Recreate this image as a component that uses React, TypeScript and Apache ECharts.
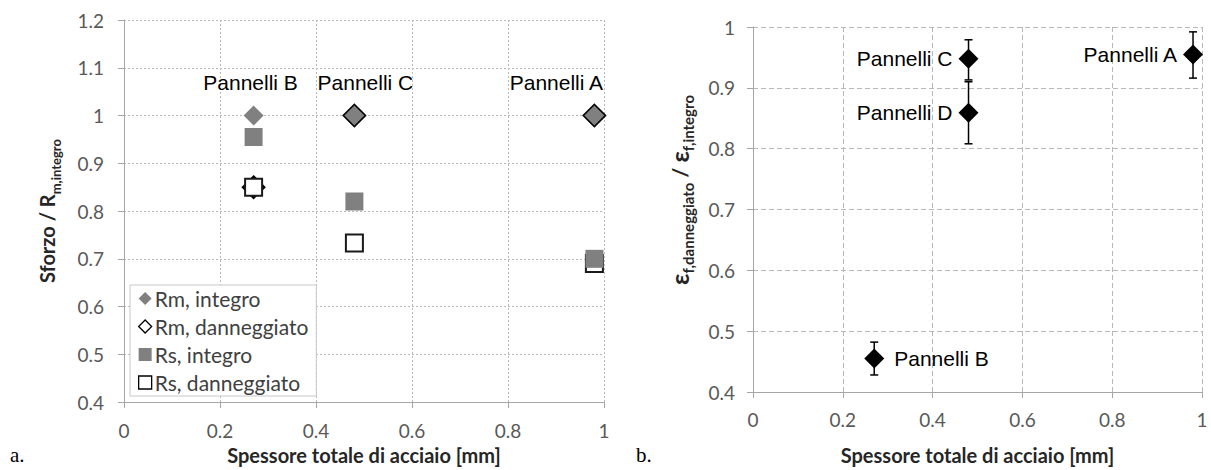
import React, { useEffect, useRef } from "react";
import * as echarts from "echarts";

// ---- Data: chart a (left) ----
const panelNames = ["Pannelli B", "Pannelli C", "Pannelli A"];
const thickness = [0.27, 0.48, 0.98];
const rmIntegro = [1.0, 1.0, 1.0];
const rmDanneggiato = [0.85, 1.0, 1.0];
const rsIntegro = [0.955, 0.82, 0.7];
const rsDanneggiato = [0.85, 0.733, 0.69];
const leftTicksX = { min: 0, max: 1, interval: 0.2 };
const leftTicksY = { min: 0.4, max: 1.2, interval: 0.1 };

// ---- Data: chart b (right) ----
const epsPanels = ["Pannelli A", "Pannelli C", "Pannelli D", "Pannelli B"];
const epsThickness = [0.98, 0.48, 0.48, 0.27];
const epsRatio = [0.955, 0.948, 0.859, 0.455];
const epsLow = [0.916, 0.913, 0.808, 0.428];
const epsHigh = [0.992, 0.979, 0.91, 0.482];
const rightTicksX = { min: 0, max: 1, interval: 0.2 };
const rightTicksY = { min: 0.4, max: 1.0, interval: 0.1 };

// label placement (layout only)
const leftLabelOffsets = [[-3, 0], [11, 0], [-38, 0]];
const rightLabelSide = ["left", "left", "left", "right"];

const TICK_FONT = "Lato, 'Open Sans', sans-serif";
const ARIAL = "'Liberation Sans', Arial, sans-serif";
const GRAY = "#808080";

function axisCommon(gridIndex: number, dashed: any) {
  return {
    gridIndex,
    type: "value" as const,
    axisLine: { show: true, onZero: false, lineStyle: { color: "#a6a6a6", width: 1 } },
    axisTick: { show: true, inside: false, length: 6, lineStyle: { color: "#a6a6a6" } },
    splitLine: { show: true, lineStyle: { color: "#b8b8b8", type: dashed, width: 1 } },
    axisLabel: { color: "#595959", fontSize: 19, fontFamily: TICK_FONT },
  };
}

export default function App() {
  const ref = useRef<HTMLDivElement>(null);
  useEffect(() => {
    if (!ref.current) return;
    const chart = echarts.init(ref.current, null, { renderer: "svg" });
    const leftRm = thickness.map((x, i) => ({
      value: [x, rmIntegro[i]],
      label: {
        show: true,
        position: "top",
        distance: 13,
        offset: leftLabelOffsets[i],
        formatter: panelNames[i],
        fontFamily: ARIAL,
        fontSize: 21,
        color: "#000",
      },
    }));
    const rightPts = epsThickness.map((x, i) => ({
      value: [x, epsRatio[i]],
      label: {
        show: true,
        position: rightLabelSide[i],
        distance: rightLabelSide[i] === "left" ? 6 : 10,
        formatter: epsPanels[i],
        fontFamily: ARIAL,
        fontSize: 21,
        color: "#000",
      },
    }));
    const errData = epsThickness.map((x, i) => [x, epsLow[i], epsHigh[i]]);

    const option: any = {
      animation: false,
      backgroundColor: "#fff",
      grid: [
        { left: 124, top: 20, width: 480, height: 384 },
        { left: 753, top: 27, width: 449, height: 369 },
      ],
      xAxis: [
        {
          ...axisCommon(0, [2, 2]),
          ...leftTicksX,
          axisLabel: { color: "#595959", fontSize: 19, fontFamily: TICK_FONT, margin: 19 },
          name: "Spessore totale di acciaio [mm]",
          nameLocation: "middle",
          nameGap: 42,
          nameTextStyle: { fontFamily: TICK_FONT, fontWeight: "bold", fontSize: 20, color: "#262626" },
        },
        {
          ...axisCommon(1, [5, 3]),
          ...rightTicksX,
          axisLabel: { color: "#595959", fontSize: 19, fontFamily: TICK_FONT, margin: 18 },
          name: "Spessore totale di acciaio [mm]",
          nameLocation: "middle",
          nameGap: 53,
          nameTextStyle: { fontFamily: TICK_FONT, fontWeight: "bold", fontSize: 20, color: "#262626" },
        },
      ],
      yAxis: [
        {
          ...axisCommon(0, [2, 2]),
          ...leftTicksY,
          axisLabel: { color: "#595959", fontSize: 19, fontFamily: TICK_FONT, margin: 20 },
          name: "{m|Sforzo / R}{s|m,integro}",
          nameLocation: "middle",
          nameRotate: 90,
          nameGap: 62,
          nameTextStyle: {
            rich: {
              m: { fontFamily: TICK_FONT, fontWeight: "bold", fontSize: 20, color: "#262626", lineHeight: 30, verticalAlign: "middle" },
              s: { fontFamily: TICK_FONT, fontWeight: "bold", fontSize: 13, color: "#262626", lineHeight: 13, verticalAlign: "bottom" },
            },
          },
        },
        {
          ...axisCommon(1, [5, 3]),
          ...rightTicksY,
          axisLabel: { color: "#595959", fontSize: 19, fontFamily: TICK_FONT, margin: 18 },
          name: "{e|ε}{s|f,danneggiato}{m| / }{e|ε}{s|f,integro}",
          nameLocation: "end",
          nameRotate: 90,
          nameGap: -68,
          nameTextStyle: {
            align: "right",
            verticalAlign: "bottom",
            padding: [0, 0, 58, 0],
            rich: {
              e: { fontFamily: TICK_FONT, fontWeight: "bold", fontSize: 25, color: "#262626", lineHeight: 32, verticalAlign: "middle" },
              m: { fontFamily: TICK_FONT, fontWeight: "bold", fontSize: 21, color: "#262626", lineHeight: 32, verticalAlign: "middle" },
              s: { fontFamily: TICK_FONT, fontWeight: "bold", fontSize: 15, color: "#262626", lineHeight: 15, verticalAlign: "bottom" },
            },
          },
        },
      ],
      legend: {
        orient: "vertical",
        left: 130,
        top: 285,
        backgroundColor: "#fff",
        borderColor: "#c8c8c8",
        borderWidth: 1,
        borderRadius: 0,
        padding: [3, 8, 3, 8],
        itemGap: 7,
        itemWidth: 13,
        itemHeight: 13,
        textStyle: { fontFamily: TICK_FONT, fontSize: 21, color: "#404040", padding: [0, 0, 0, -2] },
        data: [
          { name: "Rm, integro", icon: "diamond", itemStyle: { color: GRAY, borderWidth: 0 } },
          { name: "Rm, danneggiato", icon: "diamond", itemStyle: { color: "#fff", borderColor: "#000", borderWidth: 1.3 } },
          { name: "Rs, integro", icon: "rect", itemStyle: { color: GRAY, borderWidth: 0 } },
          { name: "Rs, danneggiato", icon: "rect", itemStyle: { color: "#fff", borderColor: "#000", borderWidth: 1.3 } },
        ],
      },
      series: [
        {
          name: "Rm, danneggiato",
          type: "scatter",
          xAxisIndex: 0,
          yAxisIndex: 0,
          symbol: "diamond",
          symbolSize: 21,
          z: 2,
          itemStyle: { color: "#fff", borderColor: "#000", borderWidth: 2.5, opacity: 1 },
          data: thickness.map((x, i) => [x, rmDanneggiato[i]]),
        },
        {
          name: "Rs, danneggiato",
          type: "scatter",
          xAxisIndex: 0,
          yAxisIndex: 0,
          symbol: "rect",
          symbolSize: 17,
          z: 2,
          itemStyle: { color: "#fff", borderColor: "#1a1a1a", borderWidth: 2, opacity: 1 },
          data: thickness.map((x, i) => [x, rsDanneggiato[i]]),
        },
        {
          name: "Rm, integro",
          type: "scatter",
          xAxisIndex: 0,
          yAxisIndex: 0,
          symbol: "diamond",
          symbolSize: 20,
          z: 3,
          itemStyle: { color: GRAY, opacity: 1 },
          data: leftRm,
        },
        {
          name: "Rs, integro",
          type: "scatter",
          xAxisIndex: 0,
          yAxisIndex: 0,
          symbol: "rect",
          symbolSize: 18,
          z: 3,
          itemStyle: { color: GRAY, opacity: 1 },
          data: thickness.map((x, i) => [x, rsIntegro[i]]),
        },
        {
          name: "errorbars",
          type: "custom",
          xAxisIndex: 1,
          yAxisIndex: 1,
          z: 3,
          encode: { x: 0, y: [1, 2] },
          data: errData,
          renderItem: (params: any, api: any) => {
            const x = api.value(0);
            const lo = api.coord([x, api.value(1)]);
            const hi = api.coord([x, api.value(2)]);
            const cap = 4;
            const st = { stroke: "#000", lineWidth: 1.5 };
            return {
              type: "group",
              children: [
                { type: "line", shape: { x1: hi[0], y1: hi[1], x2: lo[0], y2: lo[1] }, style: st },
                { type: "line", shape: { x1: hi[0] - cap, y1: hi[1], x2: hi[0] + cap, y2: hi[1] }, style: st },
                { type: "line", shape: { x1: lo[0] - cap, y1: lo[1], x2: lo[0] + cap, y2: lo[1] }, style: st },
              ],
            };
          },
        },
        {
          name: "eps",
          type: "scatter",
          xAxisIndex: 1,
          yAxisIndex: 1,
          symbol: "diamond",
          symbolSize: 20,
          z: 4,
          itemStyle: { color: "#000", opacity: 1 },
          data: rightPts,
        },
      ],
      graphic: [
        { type: "text", left: 10, top: 444, style: { text: "a.", font: "21px 'Liberation Serif', serif", fill: "#000" } },
        { type: "text", left: 636, top: 444, style: { text: "b.", font: "21px 'Liberation Serif', serif", fill: "#000" } },
      ],
    };
    chart.setOption(option);
    return () => chart.dispose();
  }, []);
  return (
    <div
      ref={ref}
      style={{ position: "absolute", left: 0, top: 0, width: 1211, height: 470, background: "#fff" }}
    />
  );
}
